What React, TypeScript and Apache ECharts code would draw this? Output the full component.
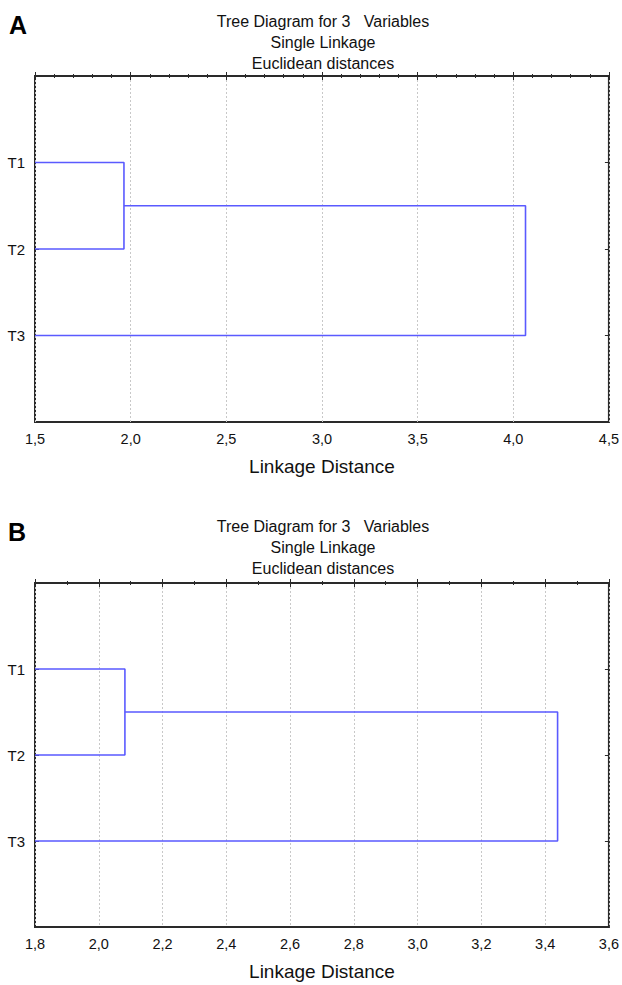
import React, { useEffect, useRef } from "react";
import * as echarts from "echarts";

const leaves = ["T1", "T2", "T3"];
const xTicksA = [1.5, 2.0, 2.5, 3.0, 3.5, 4.0, 4.5];
const xTicksB = [1.8, 2.0, 2.2, 2.4, 2.6, 2.8, 3.0, 3.2, 3.4, 3.6];
const mergeA = [1.965, 4.064]; // (T1,T2) then (T1T2,T3)
const mergeB = [2.082, 3.439];
const titleLines = ["Tree Diagram for 3   Variables", "Single Linkage", "Euclidean distances"];
const panelLetters = ["A", "B"];
const xAxisName = "Linkage Distance";

const FONT = "Liberation Sans, Arial, sans-serif";
const LINE = "#5a5aff";
const BORDER = "#2a2a2a";

function dendroSeries(merge: number[], xmin: number, idx: number) {
  const [h1, h2] = merge;
  const y1 = 1, y2 = 2, y3 = 3;
  const mid = (y1 + y2) / 2;
  const common = {
    type: "line",
    xAxisIndex: idx * 2,
    yAxisIndex: idx * 2,
    showSymbol: false,
    symbol: "none",
    lineStyle: { color: LINE, width: 1.6 },
    silent: true,
  };
  return [
    { ...common, data: [[xmin, y1], [h1, y1], [h1, y2], [xmin, y2]] },
    { ...common, data: [[h1, mid], [h2, mid], [h2, y3], [xmin, y3]] },
  ];
}

function xAxes(ticks: number[], gridIndex: number, minorSplit: number) {
  const min = ticks[0];
  const max = ticks[ticks.length - 1];
  const interval = +(ticks[1] - ticks[0]).toFixed(4);
  const base = {
    type: "value",
    gridIndex,
    min,
    max,
    interval,
    axisLine: { show: false },
    axisTick: { show: true, inside: true, length: 4, lineStyle: { color: BORDER, width: 1 } },
    minorTick: { show: true, splitNumber: minorSplit, length: 2, lineStyle: { color: BORDER, width: 1 } },
  };
  return [
    {
      ...base,
      position: "bottom",
      name: xAxisName,
      nameLocation: "middle",
      nameGap: 35,
      nameTextStyle: { fontFamily: FONT, fontSize: 19, color: "#111" },
      axisLabel: {
        margin: 9,
        fontFamily: FONT,
        fontSize: 14.5,
        color: "#111",
        formatter: (v: number) => v.toFixed(1).replace(".", ","),
      },
      splitLine: { show: true, lineStyle: { color: "#c8c8c8", type: [2, 2], width: 1 } },
    },
    {
      ...base,
      position: "top",
      axisLabel: { show: false },
      splitLine: { show: false },
    },
  ];
}

function yAxes(gridIndex: number) {
  const base = {
    type: "value",
    gridIndex,
    min: 0,
    max: leaves.length + 1,
    interval: 1,
    inverse: true,
    axisLine: { show: false },
    splitLine: { show: false },
    axisTick: { show: true, inside: true, length: 4, lineStyle: { color: BORDER, width: 1 } },
  };
  return [
    {
      ...base,
      position: "left",
      axisLabel: {
        margin: 10,
        fontFamily: FONT,
        fontSize: 15,
        color: "#111",
        formatter: (v: number) => leaves[v - 1] ?? "",
      },
    },
    { ...base, position: "right", axisLabel: { show: false } },
  ];
}

export default function App() {
  const ref = useRef<HTMLDivElement>(null);
  useEffect(() => {
    if (!ref.current) return;
    const chart = echarts.init(ref.current, null, { renderer: "svg" });
    const titleStyle = { fontFamily: FONT, fontSize: 16, fontWeight: "normal", color: "#111", lineHeight: 21 };
    chart.setOption({
      animation: false,
      backgroundColor: "#fff",
      title: [
        { text: titleLines.join("\n"), left: 318, top: 6, textAlign: "center", textStyle: titleStyle },
        { text: titleLines.join("\n"), left: 318, top: 511, textAlign: "center", textStyle: titleStyle },
      ],
      graphic: [
        { type: "text", left: 9, top: 12, style: { text: panelLetters[0], font: `bold 25px ${FONT}`, fill: "#000" } },
        { type: "text", left: 8, top: 519, style: { text: panelLetters[1], font: `bold 25px ${FONT}`, fill: "#000" } },
      ],
      grid: [
        { left: 35, top: 76, width: 576, height: 346, show: true, borderColor: BORDER, borderWidth: 2, backgroundColor: "transparent" },
        { left: 35, top: 583, width: 577, height: 344, show: true, borderColor: BORDER, borderWidth: 2, backgroundColor: "transparent" },
      ],
      xAxis: [...xAxes(xTicksA, 0, 5), ...xAxes(xTicksB, 1, 2)],
      yAxis: [...yAxes(0), ...yAxes(1)],
      series: [
        ...dendroSeries(mergeA, xTicksA[0], 0),
        ...dendroSeries(mergeB, xTicksB[0], 1),
      ],
    });
    return () => chart.dispose();
  }, []);
  return (
    <div
      ref={ref}
      style={{ position: "fixed", left: 0, top: 0, width: 622, height: 985, background: "#fff" }}
    />
  );
}
